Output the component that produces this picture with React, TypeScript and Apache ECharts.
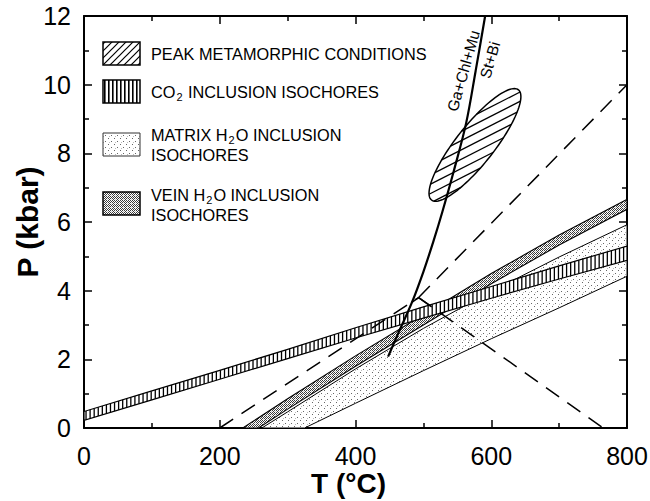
import React, { useEffect, useRef } from "react";
import * as echarts from "echarts";

// ---------------- data ----------------
const xTickValues = [0, 200, 400, 600, 800];
const yTickValues = [0, 2, 4, 6, 8, 10, 12];

// CO2 inclusion isochore band
const co2T = [0, 100, 200, 300, 400, 500, 600, 700, 800];
const co2Lower = [0.22, 0.82, 1.42, 2.02, 2.62, 3.2, 3.78, 4.34, 4.88];
const co2Upper = [0.48, 1.08, 1.68, 2.29, 2.92, 3.53, 4.12, 4.72, 5.3];

// Vein H2O inclusion isochore band
const veinUpperT = [234, 300, 400, 500, 600, 700, 800];
const veinUpperP = [0, 0.85, 2.1, 3.3, 4.5, 5.62, 6.66];
const veinLowerT = [257, 300, 400, 500, 600, 700, 800];
const veinLowerP = [0, 0.55, 1.8, 3.0, 4.2, 5.33, 6.37];

// Matrix H2O inclusion isochore band
const matrixUpperT = [262, 300, 400, 500, 600, 700, 800];
const matrixUpperP = [0, 0.47, 1.72, 2.9, 3.98, 4.98, 5.92];
const matrixLowerT = [325, 400, 500, 600, 700, 800];
const matrixLowerP = [0, 0.72, 1.67, 2.6, 3.5, 4.42];

// Reaction Ga+Chl+Mu = St+Bi
const rxnT = [448, 465, 483, 500, 515, 528, 545, 563, 577, 591];
const rxnP = [2.08, 2.85, 3.65, 4.55, 5.45, 6.3, 7.5, 8.88, 10.4, 12];

// Peak metamorphic conditions ellipse (tips of the long axis)
const peakTipT = [512, 640];
const peakTipP = [6.64, 9.85];

// Dashed lines meeting at a junction
const dashLowT = [200, 493];
const dashLowP = [0, 3.8];
const dashHighT = [493, 800];
const dashHighP = [3.8, 10];
const dashDownT = [493, 765];
const dashDownP = [3.8, 0];
const kinkT = [483, 493, 511];
const kinkP = [3.66, 3.8, 3.55];

// Reaction labels
const reactionLabels = ["Ga+Chl+Mu", "St+Bi"];
const reactionLabelT = [559, 598];
const reactionLabelP = [10.4, 10.72];

const FONT = "'Liberation Sans', Arial, Helvetica, sans-serif";

function interp(xs: number[], ys: number[], x: number) {
  if (x <= xs[0]) return ys[0];
  for (let i = 1; i < xs.length; i++) {
    if (x <= xs[i]) {
      const f = (x - xs[i - 1]) / (xs[i] - xs[i - 1]);
      return ys[i - 1] + f * (ys[i] - ys[i - 1]);
    }
  }
  return ys[ys.length - 1];
}

function tile(w: number, h: number, draw: (ctx: CanvasRenderingContext2D) => void) {
  const c = document.createElement("canvas");
  c.width = w;
  c.height = h;
  const ctx = c.getContext("2d")!;
  ctx.fillStyle = "#fff";
  ctx.fillRect(0, 0, w, h);
  draw(ctx);
  return { image: c.toDataURL(), repeat: "repeat", imageWidth: w, imageHeight: h } as any;
}

export default function App() {
  const ref = useRef<HTMLDivElement>(null);

  useEffect(() => {
    const chart = echarts.init(ref.current!, null, { renderer: "svg" });

    const veinFill = tile(4, 4, (ctx) => {
      ctx.fillStyle = "#3a3a3a";
      ctx.fillRect(0, 0, 1, 1);
      ctx.fillRect(2, 0, 1, 1);
      ctx.fillRect(1, 1, 1, 1);
      ctx.fillRect(3, 1, 1, 1);
      ctx.fillRect(0, 2, 1, 1);
      ctx.fillRect(2, 2, 1, 1);
      ctx.fillRect(1, 3, 1, 1);
      ctx.fillStyle = "#bbb";
      ctx.fillRect(3, 3, 1, 1);
    });
    const matrixFill = tile(6, 6, (ctx) => {
      ctx.fillStyle = "#666";
      ctx.fillRect(0, 0, 1, 1);
      ctx.fillRect(3, 3, 1, 1);
      ctx.fillStyle = "#bbb";
      ctx.fillRect(1, 4, 1, 1);
    });
    const vertFill = tile(4, 4, (ctx) => {
      ctx.fillStyle = "#000";
      ctx.fillRect(0, 0, 1, 4);
      ctx.fillStyle = "#666";
      ctx.fillRect(1, 0, 1, 4);
    });
    const diagFill = tile(7, 7, (ctx) => {
      ctx.strokeStyle = "#000";
      ctx.lineWidth = 1.2;
      ctx.beginPath();
      ctx.moveTo(0, 7);
      ctx.lineTo(7, 0);
      ctx.moveTo(-2, 2);
      ctx.lineTo(2, -2);
      ctx.moveTo(5, 9);
      ctx.lineTo(9, 5);
      ctx.stroke();
    });

    const bandPolygon = (api: any, upT: number[], upP: number[], loT: number[], loP: number[]) => {
      const pts: number[][] = [];
      upT.forEach((t, i) => pts.push(api.coord([t, upP[i]])));
      for (let i = loT.length - 1; i >= 0; i--) pts.push(api.coord([loT[i], loP[i]]));
      return pts;
    };

    const lineSeries = (xs: number[], ys: number[], type: string, width: number, smooth = false) => ({
      type: "line",
      xAxisIndex: 0,
      yAxisIndex: 0,
      data: xs.map((x, i) => [x, ys[i]]),
      showSymbol: false,
      symbol: "none",
      smooth: smooth ? 0.35 : false,
      silent: true,
      lineStyle: { color: "#000", width, type: type === "dashed" ? [16, 10] : "solid" },
    });

    const axisCommon = {
      type: "value",
      axisLine: { show: true, onZero: false, lineStyle: { color: "#000", width: 2 } },
      axisTick: { show: true, inside: true, length: 8, lineStyle: { color: "#000", width: 1.5 } },
      minorTick: { show: true, splitNumber: 2, length: 5, lineStyle: { color: "#000", width: 1.5 } },
      splitLine: { show: false },
      minorSplitLine: { show: false },
    };

    const option: any = {
      animation: false,
      backgroundColor: "#fff",
      grid: { left: 84, right: 23, top: 16, bottom: 73, outerBoundsMode: "none", containLabel: false },
      xAxis: [
        {
          ...axisCommon,
          position: "bottom",
          min: xTickValues[0],
          max: xTickValues[xTickValues.length - 1],
          interval: xTickValues[1] - xTickValues[0],
          axisLabel: { fontSize: 25, fontFamily: FONT, color: "#000", margin: 15 },
          name: "T (°C)",
          nameLocation: "middle",
          nameMoveOverlap: false,
          nameGap: 41,
          nameTextStyle: { fontSize: 28, fontWeight: "bold", fontFamily: FONT, color: "#000", padding: [0, 14, 0, 0] },
        },
        {
          ...axisCommon,
          position: "top",
          min: xTickValues[0],
          max: xTickValues[xTickValues.length - 1],
          interval: xTickValues[1] - xTickValues[0],
          axisLabel: { show: false },
        },
      ],
      yAxis: [
        {
          ...axisCommon,
          position: "left",
          min: yTickValues[0],
          max: yTickValues[yTickValues.length - 1],
          interval: yTickValues[1] - yTickValues[0],
          axisLabel: { fontSize: 25, fontFamily: FONT, color: "#000", margin: 13 },
          name: "P (kbar)",
          nameLocation: "middle",
          nameMoveOverlap: false,
          nameGap: 42,
          nameTextStyle: { fontSize: 30, fontWeight: "bold", fontFamily: FONT, color: "#000" },
        },
        {
          ...axisCommon,
          position: "right",
          min: yTickValues[0],
          max: yTickValues[yTickValues.length - 1],
          interval: yTickValues[1] - yTickValues[0],
          axisLabel: { show: false },
        },
      ],
      series: [
        lineSeries(dashLowT, dashLowP, "dashed", 1.5),
        lineSeries(dashHighT, dashHighP, "dashed", 1.5),
        lineSeries(dashDownT, dashDownP, "dashed", 1.5),
        {
          type: "custom",
          name: "Matrix H2O",
          xAxisIndex: 0,
          yAxisIndex: 0,
          clip: true,
          silent: true,
          data: [[matrixUpperT[0], matrixUpperP[0]]],
          renderItem: (_p: any, api: any) => ({
            type: "polygon",
            shape: { points: bandPolygon(api, matrixUpperT, matrixUpperP, matrixLowerT, matrixLowerP) },
            style: { fill: matrixFill, stroke: "#000", lineWidth: 1 },
          }),
        },
        {
          type: "custom",
          name: "Vein H2O",
          xAxisIndex: 0,
          yAxisIndex: 0,
          clip: true,
          silent: true,
          data: [[veinUpperT[0], veinUpperP[0]]],
          renderItem: (_p: any, api: any) => ({
            type: "polygon",
            shape: { points: bandPolygon(api, veinUpperT, veinUpperP, veinLowerT, veinLowerP) },
            style: { fill: veinFill, stroke: "#000", lineWidth: 1.1 },
          }),
        },
        {
          type: "custom",
          name: "CO2",
          xAxisIndex: 0,
          yAxisIndex: 0,
          clip: true,
          silent: true,
          data: [[co2T[0], co2Lower[0]]],
          renderItem: (_p: any, api: any) => {
            const pts = bandPolygon(api, co2T, co2Upper, co2T, co2Lower);
            const children: any[] = [{ type: "polygon", shape: { points: pts }, style: { fill: "#fff", stroke: "none" } }];
            for (let T = 3; T < co2T[co2T.length - 1]; T += 6) {
              const a = api.coord([T, interp(co2T, co2Lower, T)]);
              const b = api.coord([T, interp(co2T, co2Upper, T)]);
              children.push({
                type: "line",
                shape: { x1: a[0], y1: a[1], x2: b[0], y2: b[1] },
                style: { stroke: "#000", lineWidth: 1.3 },
              });
            }
            children.push({ type: "polygon", shape: { points: pts }, style: { fill: "none", stroke: "#000", lineWidth: 1.2 } });
            return { type: "group", children };
          },
        },
        lineSeries(rxnT, rxnP, "solid", 2.2, true),
        lineSeries(kinkT, kinkP, "solid", 1.5),
        {
          type: "custom",
          name: "Peak",
          xAxisIndex: 0,
          yAxisIndex: 0,
          clip: true,
          silent: true,
          data: [[peakTipT[0], peakTipP[0]]],
          renderItem: (_p: any, api: any) => {
            const p1 = api.coord([peakTipT[0], peakTipP[0]]);
            const p2 = api.coord([peakTipT[1], peakTipP[1]]);
            const cx = (p1[0] + p2[0]) / 2;
            const cy = (p1[1] + p2[1]) / 2;
            const a = Math.hypot(p2[0] - p1[0], p2[1] - p1[1]) / 2;
            const b = 19;
            const phi = Math.atan2(p2[1] - p1[1], p2[0] - p1[0]);
            const cs = Math.cos(phi);
            const sn = Math.sin(phi);
            const outline: number[][] = [];
            for (let i = 0; i < 120; i++) {
              const t = (i / 120) * Math.PI * 2;
              const lx = a * Math.cos(t);
              const ly = b * Math.sin(t);
              outline.push([cx + lx * cs - ly * sn, cy + lx * sn + ly * cs]);
            }
            const children: any[] = [{ type: "polygon", shape: { points: outline }, style: { fill: "#fff", stroke: "none" } }];
            const th = (-27 * Math.PI) / 180;
            const dx = Math.cos(th);
            const dy = Math.sin(th);
            const nx = -dy;
            const ny = dx;
            const dlx = dx * cs + dy * sn;
            const dly = -dx * sn + dy * cs;
            for (let s = -a + 2; s <= a; s += 8.3) {
              const qx = s * nx;
              const qy = s * ny;
              const l0x = qx * cs + qy * sn;
              const l0y = -qx * sn + qy * cs;
              const A = (dlx * dlx) / (a * a) + (dly * dly) / (b * b);
              const B = 2 * ((l0x * dlx) / (a * a) + (l0y * dly) / (b * b));
              const C = (l0x * l0x) / (a * a) + (l0y * l0y) / (b * b) - 1;
              const disc = B * B - 4 * A * C;
              if (disc <= 0) continue;
              const t1 = (-B - Math.sqrt(disc)) / (2 * A);
              const t2 = (-B + Math.sqrt(disc)) / (2 * A);
              children.push({
                type: "line",
                shape: { x1: cx + qx + t1 * dx, y1: cy + qy + t1 * dy, x2: cx + qx + t2 * dx, y2: cy + qy + t2 * dy },
                style: { stroke: "#000", lineWidth: 1.3 },
              });
            }
            children.push({ type: "polygon", shape: { points: outline }, style: { fill: "none", stroke: "#000", lineWidth: 1.5 } });
            return { type: "group", children };
          },
        },
        {
          type: "custom",
          name: "Reaction labels",
          xAxisIndex: 0,
          yAxisIndex: 0,
          clip: false,
          silent: true,
          data: reactionLabels.map((_, i) => [reactionLabelT[i], reactionLabelP[i]]),
          renderItem: (params: any, api: any) => {
            const i = params.dataIndex;
            const p = api.coord([reactionLabelT[i], reactionLabelP[i]]);
            return {
              type: "text",
              x: p[0],
              y: p[1],
              rotation: (74 * Math.PI) / 180,
              style: {
                text: reactionLabels[i],
                fontSize: 15.5,
                fontFamily: FONT,
                fill: "#000",
                align: "center",
                verticalAlign: "middle",
              },
            };
          },
        },
      ],
      graphic: [
        { type: "rect", shape: { x: 103, y: 42, width: 37, height: 23 }, style: { fill: diagFill, stroke: "#000", lineWidth: 1.5 } },
        { type: "rect", shape: { x: 103, y: 80, width: 37, height: 23 }, style: { fill: vertFill, stroke: "#000", lineWidth: 1.5 } },
        { type: "rect", shape: { x: 103, y: 133, width: 37, height: 23 }, style: { fill: matrixFill, stroke: "#333", lineWidth: 1 } },
        { type: "rect", shape: { x: 103, y: 192, width: 37, height: 23 }, style: { fill: veinFill, stroke: "#000", lineWidth: 1.5 } },
        ...[
          { y: 54, t: "{n|PEAK METAMORPHIC CONDITIONS}" },
          { y: 92, t: "{n|CO}{s|2}{n| INCLUSION ISOCHORES}" },
          { y: 135, t: "{n|MATRIX H}{s|2}{n|O INCLUSION}" },
          { y: 155, t: "{n|ISOCHORES}" },
          { y: 195, t: "{n|VEIN H}{s|2}{n|O INCLUSION}" },
          { y: 215, t: "{n|ISOCHORES}" },
        ].map((r) => ({
          type: "text",
          x: 151,
          y: r.y,
          style: {
            text: r.t,
            fill: "#000",
            align: "left",
            verticalAlign: "middle",
            rich: {
              n: { fontSize: 16.3, fontFamily: FONT, fill: "#000" },
              s: { fontSize: 11, fontFamily: FONT, fill: "#000", padding: [9, 1, 0, 1] },
            },
          },
        })),
      ],
    };

    chart.setOption(option);
    return () => chart.dispose();
  }, []);

  return <div ref={ref} style={{ position: "fixed", left: 0, top: 0, width: 650, height: 501 }} />;
}
